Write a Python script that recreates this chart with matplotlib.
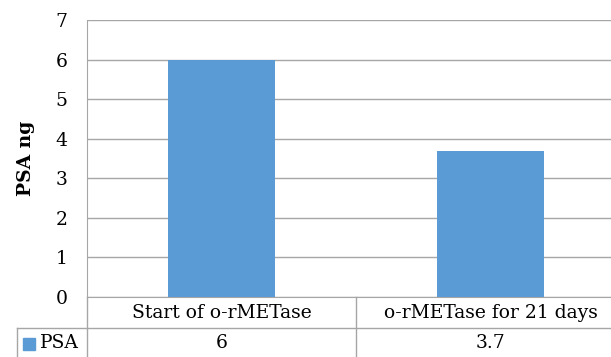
import matplotlib.pyplot as plt
from matplotlib.lines import Line2D
from matplotlib.patches import Rectangle
import matplotlib.transforms as mtransforms

categories = ['Start of o-rMETase', 'o-rMETase for 21 days']
psa_values = [6, 3.7]
value_labels = ['6', '3.7']
series_name = 'PSA'
y_ticks = [0, 1, 2, 3, 4, 5, 6, 7]

bar_color = '#5B9BD5'
grid_color = '#A6A6A6'
fs = 13.5

plt.rcParams['font.family'] = ['DejaVu Serif']

W, H = 611, 357
fig = plt.figure(figsize=(W / 100, H / 100), dpi=100)

# plot area in pixels (right edge runs off the image, like the original crop)
left_px, right_px, top_px, base_px = 87, 625, 20, 297
ax = fig.add_axes([left_px / W, (H - base_px) / H,
                   (right_px - left_px) / W, (base_px - top_px) / H])

ax.bar(range(len(categories)), psa_values, width=0.4, color=bar_color, zorder=3)
ax.set_xlim(-0.5, len(categories) - 0.5)
ax.set_ylim(0, 7)
ax.set_yticks(y_ticks)
ax.tick_params(axis='y', length=0, pad=14, labelsize=fs)
ax.set_xticks([])
ax.yaxis.grid(True, color=grid_color, linewidth=1, zorder=0)
for side in ['top', 'right']:
    ax.spines[side].set_visible(False)
ax.spines['left'].set_color(grid_color)
ax.spines['bottom'].set_color(grid_color)

ax.set_ylabel('PSA ng', fontsize=fs, fontweight='bold', labelpad=15)

# data table under the plot
ax_h = base_px - top_px
def ay(py):
    return -(py - base_px) / ax_h

def ax_x(px):
    return (px - left_px) / (right_px - left_px)

trans = mtransforms.blended_transform_factory(ax.transData, ax.transAxes)
row1 = ay(313)
row2 = ay(343)
for i, (cat, lab) in enumerate(zip(categories, value_labels)):
    ax.text(i, row1, cat, transform=trans, ha='center', va='center', fontsize=fs)
    ax.text(i, row2, lab, transform=trans, ha='center', va='center', fontsize=fs)

line_kw = dict(color=grid_color, linewidth=1, clip_on=False, transform=ax.transAxes)
bottom = ay(H + 5)
# horizontal divider between rows
ax.add_line(Line2D([ax_x(17), 1.05], [ay(328), ay(328)], **line_kw))
# verticals
ax.add_line(Line2D([0, 0], [0, bottom], **line_kw))
ax.add_line(Line2D([ax_x(17), ax_x(17)], [ay(328), bottom], **line_kw))
for i in range(len(categories) - 1):
    ax.add_line(Line2D([i + 0.5, i + 0.5], [0, bottom], color=grid_color,
                       linewidth=1, clip_on=False, transform=trans))

# legend key in table
ax.add_patch(Rectangle((ax_x(23), ay(350)), ax_x(35) - ax_x(23), ay(338) - ay(350),
                       transform=ax.transAxes, clip_on=False, color=bar_color))
ax.text(ax_x(40), row2, series_name, transform=ax.transAxes, ha='left', va='center',
        fontsize=fs)

fig.savefig('out.png', dpi=100)
